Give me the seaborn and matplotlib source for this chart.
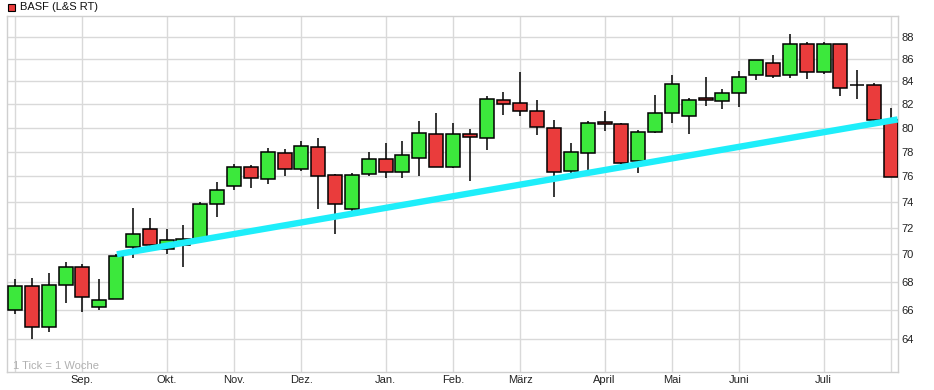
import matplotlib
matplotlib.use("Agg")
import matplotlib.pyplot as plt
from matplotlib.patches import Rectangle
from matplotlib.ticker import FixedLocator, NullLocator, FixedFormatter
import seaborn as sns

# weekly candles, BASF (L&S RT)
opens = [66.0, 67.7, 64.85, 67.8, 69.1, 66.2, 66.8, 70.55, 71.9, 70.4,
         70.7, 71.1, 73.8, 75.2, 76.75, 75.8, 77.9, 76.6, 78.4, 76.1,
         73.4, 76.2, 77.4, 76.35, 77.5, 79.45, 76.75, 79.45, 79.15, 82.35,
         82.1, 81.45, 79.95, 76.4, 77.9, 80.45, 80.3, 77.25, 79.6, 81.25,
         81.0, 82.55, 82.3, 82.95, 84.6, 85.65, 84.6, 87.35, 84.8, 87.35,
         83.7, 83.65, 80.65]
highs = [68.2, 68.25, 68.6, 69.4, 69.3, 68.2, 70.0, 73.5, 72.7, 71.9,
         72.2, 74.0, 75.55, 77.0, 76.9, 78.3, 78.2, 78.9, 79.1, 76.2,
         76.3, 78.0, 78.7, 78.85, 80.6, 81.25, 80.4, 79.85, 82.7, 83.1,
         84.85, 82.4, 80.65, 78.7, 80.55, 81.45, 80.4, 79.8, 82.8, 84.55,
         82.55, 84.35, 83.35, 84.9, 85.95, 86.4, 88.3, 87.55, 87.55, 87.4,
         85.0, 83.85, 81.7]
lows = [65.75, 64.05, 64.5, 66.5, 65.9, 66.0, 66.8, 69.7, 70.55, 70.05,
        69.1, 71.0, 72.8, 74.9, 75.1, 75.35, 76.0, 76.4, 73.4, 71.5,
        73.2, 76.0, 75.9, 75.9, 76.0, 76.75, 76.7, 75.65, 78.1, 81.1,
        81.0, 79.4, 74.35, 76.2, 76.0, 79.7, 77.0, 76.3, 79.55, 80.4,
        79.45, 81.85, 81.6, 81.75, 84.1, 84.3, 84.3, 84.2, 84.65, 82.7,
        82.5, 80.55, 75.95]
closes = [67.7, 64.85, 67.8, 69.1, 66.9, 66.7, 69.9, 71.5, 70.7, 71.05,
          71.15, 73.8, 74.9, 76.75, 75.85, 78.0, 76.6, 78.45, 76.0, 73.8,
          76.1, 77.4, 76.35, 77.7, 79.55, 76.75, 79.45, 79.2, 82.45, 82.0,
          81.45, 80.05, 76.35, 77.95, 80.4, 80.3, 77.05, 79.6, 81.25, 83.75,
          82.35, 82.35, 82.95, 84.4, 85.9, 84.45, 87.35, 84.8, 87.35, 83.4,
          83.7, 80.65, 75.95]

month_weeks = [0, 4, 9, 13, 17, 22, 26, 30, 35, 39, 43, 48, 52]
month_labels = ["", "Sep.", "Okt.", "Nov.", "Dez.", "Jan.", "Feb.", "März",
                "April", "Mai", "Juni", "Juli", ""]
price_ticks = [64, 66, 68, 70, 72, 74, 76, 78, 80, 82, 84, 86, 88]

# trend line (week index, price)
trend_weeks = [6.05, 52.4]
trend_prices = [70.0, 80.7]

UP = "#3ce83c"
DOWN = "#ea3c3c"
GRID = "#d9d9d9"

sns.set_theme(style="white")
plt.rcParams["font.family"] = ["Liberation Sans", "DejaVu Sans"]

fig = plt.figure(figsize=(9.34, 3.9), dpi=100)
ax = fig.add_axes([7 / 934, 18 / 390, 891 / 934, 356 / 390])

ax.set_yscale("log")
ax.set_ylim(61.83, 90.0)
ax.set_xlim(-0.475, 52.42)

weeks = list(range(len(opens)))
colors = [UP if c >= o else DOWN for o, c in zip(opens, closes)]
bottoms = [min(o, c) for o, c in zip(opens, closes)]
heights = [abs(c - o) for o, c in zip(opens, closes)]

ax.vlines(weeks, lows, highs, color="black", lw=1.1, zorder=2)
ax.bar(weeks, heights, bottom=bottoms, width=0.83, color=colors,
       edgecolor="black", linewidth=1.1, zorder=3)

sns.lineplot(x=trend_weeks, y=trend_prices, ax=ax, color="#1eeefa",
             lw=4.6, zorder=4, solid_capstyle="butt")

# axes / grid
ax.yaxis.tick_right()
ax.yaxis.set_major_locator(FixedLocator(price_ticks))
ax.yaxis.set_major_formatter(FixedFormatter([str(t) for t in price_ticks]))
ax.yaxis.set_minor_locator(NullLocator())
ax.set_xticks(month_weeks)
ax.set_xticklabels(month_labels)
ax.tick_params(axis="both", length=0, labelsize=8, colors="#222222")
ax.tick_params(axis="y", pad=2.5)
ax.tick_params(axis="x", pad=2.5)
ax.grid(True, color=GRID, lw=1, zorder=0)
ax.set_axisbelow(True)
for sp in ax.spines.values():
    sp.set_color("#cfcfcf")
    sp.set_linewidth(1)

ax.text(0.0067, 0.018, "1 Tick = 1 Woche", transform=ax.transAxes,
        fontsize=8, color="#b0b0b0", va="center", ha="left")

# legend in the top-left corner
fig.patches.append(Rectangle((8 / 934, 1 - 11 / 390), 7 / 934, 7 / 390,
                             transform=fig.transFigure, facecolor=DOWN,
                             edgecolor="black", lw=0.8))
fig.text(20 / 934, 1 - 7.5 / 390, "BASF (L&S RT)", fontsize=8,
         color="#111111", va="center", ha="left")

fig.savefig("out.png", dpi=100, facecolor="white")
